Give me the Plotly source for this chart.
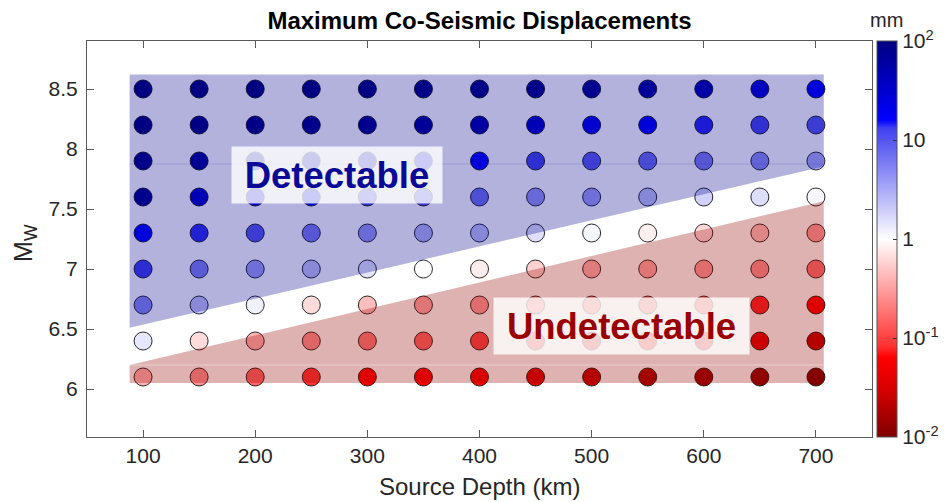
import plotly.graph_objects as go

# ---- data ----
depths_km = [100, 150, 200, 250, 300, 350, 400, 450, 500, 550, 600, 650, 700]
magnitudes = [6.1, 6.4, 6.7, 7.0, 7.3, 7.6, 7.9, 8.2, 8.5]
# log10 of maximum co-seismic displacement (mm), one row per magnitude (bottom to top)
log10_disp_mm = [
    [-0.40, -0.57, -0.81, -1.07, -1.20, -1.22, -1.27, -1.48, -1.63, -1.77, -1.84, -1.92, -1.99],  # 6.1
    [0.14, -0.19, -0.40, -0.57, -0.69, -0.81, -0.98, -1.06, -1.13, -1.20, -1.30, -1.41, -1.63],   # 6.4
    [0.69, 0.34, 0.09, -0.19, -0.35, -0.46, -0.52, -0.62, -0.72, -0.82, -0.95, -1.11, -1.20],     # 6.7
    [1.12, 0.74, 0.56, 0.34, 0.15, 0.00, -0.10, -0.24, -0.40, -0.46, -0.52, -0.57, -0.75],        # 7.0
    [1.20, 1.14, 0.99, 0.76, 0.59, 0.42, 0.36, 0.18, 0.06, -0.08, -0.20, -0.32, -0.52],           # 7.3
    [1.90, 1.55, 1.30, 1.20, 1.12, 1.05, 0.83, 0.62, 0.56, 0.36, 0.27, 0.20, 0.04],               # 7.6
    [1.95, 1.85, 1.70, 1.55, 1.42, 1.30, 1.20, 1.09, 0.96, 0.86, 0.76, 0.66, 0.49],               # 7.9
    [2.00, 1.98, 1.96, 1.93, 1.90, 1.80, 1.72, 1.52, 1.30, 1.23, 1.15, 1.08, 0.99],               # 8.2
    [2.00, 2.00, 2.00, 2.00, 1.98, 1.96, 1.95, 1.93, 1.88, 1.79, 1.67, 1.45, 1.20],               # 8.5
]
cbar_tickvals = [-2, -1, 0, 1, 2]
cbar_ticktext = ["10<sup>-2</sup>", "10<sup>-1</sup>", "1", "10", "10<sup>2</sup>"]
x_ticks = [100, 200, 300, 400, 500, 600, 700]
y_ticks = [6, 6.5, 7, 7.5, 8, 8.5]

# detectable / undetectable region outlines (depth, Mw)
detect_x = [88, 707, 707, 88]
detect_y = [8.62, 8.62, 7.855, 6.51]
undetect_x = [88, 707, 707, 88]
undetect_y = [6.2, 7.565, 6.05, 6.05]

FONT = "Liberation Sans, Arial, Helvetica, sans-serif"
TXT = "#262626"

colorscale = [
    [0.00, "rgb(128,0,0)"],
    [0.12, "rgb(215,0,0)"],
    [0.20, "rgb(255,0,0)"],
    [0.23, "rgb(255,50,50)"],
    [0.50, "rgb(255,255,255)"],
    [0.78, "rgb(64,64,240)"],
    [0.80, "rgb(0,0,255)"],
    [1.00, "rgb(0,0,128)"],
]

xs, ys, cs = [], [], []
for i, m in enumerate(magnitudes):
    for j, d in enumerate(depths_km):
        xs.append(d)
        ys.append(m)
        cs.append(log10_disp_mm[i][j])

fig = go.Figure()
fig.add_trace(go.Scatter(
    x=xs, y=ys, mode="markers",
    marker=dict(
        size=18, color=cs, cmin=-2, cmax=2, colorscale=colorscale,
        line=dict(color="rgba(20,20,20,0.9)", width=1),
        colorbar=dict(
            x=1.0064, xanchor="left", xpad=0, y=0.5, yanchor="middle",
            len=1.0, lenmode="fraction", ypad=0, thickness=20,
            outlinewidth=1, outlinecolor="#555555",
            tickmode="array", tickvals=cbar_tickvals, ticktext=cbar_ticktext,
            ticks="inside", ticklen=4, tickcolor="#333333",
            tickfont=dict(family=FONT, size=21, color=TXT),
        ),
    ),
    showlegend=False, hoverinfo="x+y",
))

def poly_path(px, py):
    s = "M %g,%g " % (px[0], py[0])
    for a, b in zip(px[1:], py[1:]):
        s += "L %g,%g " % (a, b)
    return s + "Z"

fig.add_shape(type="path", path=poly_path(detect_x, detect_y), xref="x", yref="y",
              fillcolor="rgba(0,0,138,0.3)", line=dict(width=0), layer="above")
fig.add_shape(type="path", path=poly_path(undetect_x, undetect_y), xref="x", yref="y",
              fillcolor="rgba(150,0,0,0.3)", line=dict(width=0), layer="above")
# faint seam lines from patch triangulation
fig.add_shape(type="line", x0=detect_x[0], x1=detect_x[1], y0=7.875, y1=7.875,
              line=dict(color="rgba(0,0,138,0.12)", width=1), layer="above")
fig.add_shape(type="line", x0=undetect_x[0], x1=undetect_x[1], y0=undetect_y[0], y1=undetect_y[0],
              line=dict(color="rgba(255,255,255,0.35)", width=1), layer="above")

fig.add_annotation(x=273, y=7.783, xref="x", yref="y", text="<b>Detectable</b>",
                   showarrow=False, width=210, height=56, borderpad=0,
                   bgcolor="rgba(255,255,255,0.8)",
                   font=dict(family=FONT, size=36.5, color="#0a0a96"))
fig.add_annotation(x=526.5, y=6.525, xref="x", yref="y", text="<b>Undetectable</b>",
                   showarrow=False, width=255, height=56, borderpad=0,
                   bgcolor="rgba(255,255,255,0.8)",
                   font=dict(family=FONT, size=36.5, color="#990000"))
fig.add_annotation(x=1.018, y=1.053, xref="paper", yref="paper", text="mm",
                   showarrow=False, xanchor="center", yanchor="middle",
                   font=dict(family=FONT, size=20, color=TXT))
# y-axis title
fig.add_annotation(x=-0.079, y=0.49, xref="paper", yref="paper", text="M<sub>W</sub>",
                   showarrow=False, textangle=-90, xanchor="center", yanchor="middle",
                   font=dict(family=FONT, size=25, color=TXT))
# x-axis title
fig.add_annotation(x=0.5, y=-0.126, xref="paper", yref="paper", text="Source Depth (km)",
                   showarrow=False, xanchor="center", yanchor="middle",
                   font=dict(family=FONT, size=24, color=TXT))

axis_common = dict(
    showgrid=False, zeroline=False, showline=True, linecolor="#5a5a5a", linewidth=1,
    mirror="ticks", ticks="inside", ticklen=7, tickcolor="#5a5a5a", automargin=False,
    tickfont=dict(family=FONT, size=21, color=TXT),
)
fig.update_xaxes(range=[50, 750], tickmode="array", tickvals=x_ticks, **axis_common)
fig.update_yaxes(range=[5.6, 8.9], tickmode="array", tickvals=y_ticks,
                 ticklabelstandoff=4, **axis_common)

# the page body adds an 8px offset, so the figure is 8px smaller on the left/top
fig.update_layout(
    width=939, height=494,
    margin=dict(l=79, r=75, t=33, b=65, autoexpand=False),
    paper_bgcolor="white", plot_bgcolor="white",
    title=dict(text="<b>Maximum Co-Seismic Displacements</b>", x=0.5, xref="paper",
               y=1 - 13 / 494, yref="container", yanchor="middle",
               font=dict(family=FONT, size=24, color="#000000")),
    font=dict(family=FONT),
)

fig.write_html("out.html")
